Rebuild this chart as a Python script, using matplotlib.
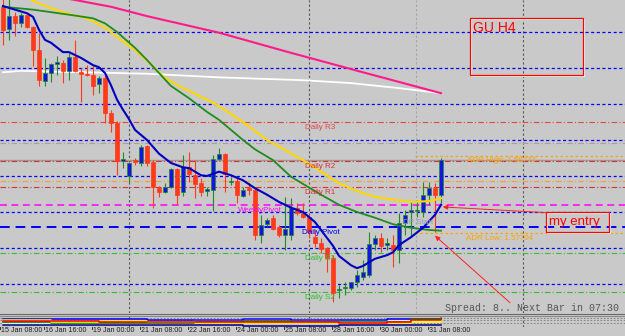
import numpy as np
import matplotlib
matplotlib.use("Agg")
import matplotlib.pyplot as plt
from matplotlib.patches import Rectangle

W, H = 625, 336
BG = "#c9c9c9"

# GBPUSD H4 bars, oldest first
opens = [1.6085, 1.6054, 1.6072, 1.6062, 1.6074, 1.6057, 1.6025, 1.5982, 1.5993, 1.6006,
         1.6007, 1.5996, 1.6015, 1.5994, 1.5992, 1.5990, 1.5978, 1.5986, 1.5937, 1.5924,
         1.5871, 1.5850, 1.5872, 1.5868, 1.5892, 1.5869, 1.5833, 1.5828, 1.5835, 1.5860,
         1.5828, 1.5862, 1.5851, 1.5840, 1.5829, 1.5831, 1.5874, 1.5881, 1.5842, 1.5843,
         1.5822, 1.5833, 1.5831, 1.5768, 1.5783, 1.5792, 1.5779, 1.5768, 1.5768, 1.5806,
         1.5799, 1.5793, 1.5765, 1.5757, 1.5750, 1.5736, 1.5692, 1.5694, 1.5694, 1.5703,
         1.5710, 1.5713, 1.5756, 1.5764, 1.5754, 1.5754, 1.5747, 1.5785, 1.5800, 1.5801,
         1.5800, 1.5824, 1.5833, 1.5824]
highs = [1.6096, 1.6098, 1.6078, 1.6076, 1.6075, 1.6058, 1.6049, 1.6014, 1.6007, 1.6017,
         1.6011, 1.6021, 1.6039, 1.6000, 1.6004, 1.6004, 1.5989, 1.5990, 1.5942, 1.5926,
         1.5883, 1.5869, 1.5875, 1.5893, 1.5893, 1.5872, 1.5836, 1.5840, 1.5861, 1.5861,
         1.5879, 1.5883, 1.5872, 1.5847, 1.5835, 1.5879, 1.5889, 1.5882, 1.5849, 1.5849,
         1.5835, 1.5840, 1.5833, 1.5796, 1.5792, 1.5796, 1.5782, 1.5821, 1.5819, 1.5813,
         1.5813, 1.5796, 1.5775, 1.5764, 1.5751, 1.5740, 1.5699, 1.5703, 1.5703, 1.5719,
         1.5733, 1.5772, 1.5768, 1.5771, 1.5764, 1.5768, 1.5799, 1.5803, 1.5814, 1.5817,
         1.5842, 1.5842, 1.5840, 1.5875]
lows = [1.6032, 1.6039, 1.6044, 1.6057, 1.6056, 1.6003, 1.5975, 1.5975, 1.5981, 1.5990,
        1.5979, 1.5983, 1.5994, 1.5953, 1.5989, 1.5962, 1.5965, 1.5924, 1.5911, 1.5851,
        1.5861, 1.5842, 1.5865, 1.5864, 1.5864, 1.5806, 1.5821, 1.5826, 1.5833, 1.5810,
        1.5822, 1.5842, 1.5819, 1.5822, 1.5822, 1.5801, 1.5872, 1.5828, 1.5837, 1.5813,
        1.5821, 1.5824, 1.5761, 1.5757, 1.5781, 1.5775, 1.5765, 1.5747, 1.5761, 1.5796,
        1.5792, 1.5764, 1.5751, 1.5743, 1.5717, 1.5675, 1.5681, 1.5685, 1.5692, 1.5696,
        1.5706, 1.5710, 1.5747, 1.5744, 1.5747, 1.5724, 1.5729, 1.5768, 1.5765, 1.5793,
        1.5793, 1.5810, 1.5772, 1.5813]
closes = [1.6053, 1.6072, 1.6062, 1.6074, 1.6057, 1.6025, 1.5983, 1.5993, 1.6006, 1.6008,
          1.5996, 1.6015, 1.5996, 1.5992, 1.5990, 1.5975, 1.5986, 1.5937, 1.5924, 1.5871,
          1.5874, 1.5868, 1.5869, 1.5890, 1.5868, 1.5835, 1.5828, 1.5835, 1.5860, 1.5824,
          1.5862, 1.5853, 1.5839, 1.5828, 1.5832, 1.5874, 1.5881, 1.5853, 1.5843, 1.5824,
          1.5831, 1.5831, 1.5768, 1.5782, 1.5789, 1.5776, 1.5768, 1.5776, 1.5806, 1.5799,
          1.5793, 1.5772, 1.5757, 1.5749, 1.5736, 1.5688, 1.5693, 1.5696, 1.5703, 1.5713,
          1.5717, 1.5756, 1.5764, 1.5753, 1.5757, 1.5747, 1.5785, 1.5796, 1.5803, 1.5803,
          1.5824, 1.5833, 1.5824, 1.5872]

# moving averages read at some bars
ma_blue_x = [0, 2, 4, 5, 6, 7, 8, 10, 11, 13, 15, 16, 17, 18, 19, 20, 21, 22, 24, 26, 28, 30, 31,
             33, 34, 35, 36, 38, 40, 42, 44, 46, 48, 50, 52, 53, 54, 55, 56, 58, 59, 60, 62, 64,
             65, 66, 68, 70, 72, 73]
ma_blue = [1.6086, 1.6081, 1.6076, 1.6071, 1.6053, 1.6039, 1.6035, 1.6022, 1.6022, 1.6014,
           1.6004, 1.6001, 1.5993, 1.5976, 1.5956, 1.5942, 1.5929, 1.5914, 1.5900, 1.5881,
           1.5868, 1.5862, 1.5861, 1.5851, 1.5850, 1.5853, 1.5856, 1.5851, 1.5844, 1.5833,
           1.5824, 1.5814, 1.5806, 1.5800, 1.5786, 1.5775, 1.5764, 1.5753, 1.5739, 1.5726,
           1.5722, 1.5725, 1.5735, 1.5740, 1.5744, 1.5754, 1.5765, 1.5778, 1.5796, 1.5810]
ma_green_x = [0, 5, 11, 15, 17, 19, 22, 24, 26, 28, 31, 34, 36, 40, 42, 45, 48, 50, 53, 56, 59,
              62, 65, 68, 71, 73]
ma_green = [1.6085, 1.6081, 1.6074, 1.6069, 1.6062, 1.6050, 1.6028, 1.6011, 1.5993, 1.5975,
            1.5958, 1.5939, 1.5928, 1.5900, 1.5887, 1.5872, 1.5849, 1.5839, 1.5824, 1.5810,
            1.5800, 1.5792, 1.5783, 1.5778, 1.5775, 1.5774]
ma_yellow_x = [0, 4, 5, 8, 11, 14, 17, 19, 22, 24, 27, 30, 34, 36, 40, 44, 47, 50, 53, 56, 59,
               62, 65, 68, 71, 73]
ma_yellow = [1.6111, 1.6099, 1.6093, 1.6083, 1.6075, 1.6069, 1.6056, 1.6043, 1.6025, 1.6010,
             1.5986, 1.5972, 1.5956, 1.5947, 1.5925, 1.5900, 1.5886, 1.5872, 1.5856, 1.5840,
             1.5829, 1.5821, 1.5817, 1.5814, 1.5815, 1.5819]
ma_pink_x = [0, 11, 18, 24, 36, 48, 60, 73]
ma_pink = [1.6115, 1.6096, 1.6085, 1.6072, 1.6049, 1.6021, 1.5994, 1.5965]
ma_white_x = [0, 3, 24, 36, 50, 58, 66, 73]
ma_white = [1.5994, 1.5996, 1.5992, 1.5987, 1.5983, 1.5979, 1.5972, 1.5965]

# levels
round_levels = [1.5700, 1.5750, 1.5800, 1.5850, 1.5900, 1.5950, 1.6000, 1.6050]
pivot_names = ["Daily R3", "Daily R2", "Daily R1", "WeeklyPivot", "Daily Pivot", "Daily S1", "Daily S2"]
pivot_prices = [1.5925, 1.5871, 1.5835, 1.5810, 1.5779, 1.5743, 1.5689]
pivot_colors = ["#e04848", "#d83030", "#d83030", "#ff00ff", "#0000ff", "#30c030", "#30c030"]
weekly_r1 = 1.5843
weekly_mid = 1.5896
adr_high, adr_low = 1.58774, 1.57704

# sub window (strength lines, 0..100)
panel_x = [0, 8, 16, 24, 32, 40, 48, 56, 64, 68, 73]
panel_series = {
    "#ffffff": [31, 31, 23, 31, 62, 69, 62, 54, 54, 54, 62],
    "#0000ff": [69, 69, 77, 62, 62, 69, 62, 62, 69, 69, 77],
    "#008000": [46, 38, 38, 38, 46, 54, 46, 46, 46, 69, 85],
    "#ffff00": [62, 46, 54, 46, 38, 38, 38, 38, 38, 46, 54],
    "#ff0000": [54, 54, 46, 46, 46, 46, 46, 38, 46, 62, 77],
    "#000080": [15, 15, 15, 15, 15, 8, 8, 15, 15, 15, 15],
}
date_labels = ["15 Jan 08:00", "16 Jan 16:00", "19 Jan 00:00", "21 Jan 08:00", "22 Jan 16:00",
               "24 Jan 00:00", "25 Jan 08:00", "28 Jan 16:00", "30 Jan 00:00", "31 Jan 08:00"]
date_bars = [-0.5, 6.8, 14.8, 22.8, 30.8, 38.8, 46.8, 54.8, 62.8, 70.8]


def fx(px):
    return px / W


def fy(py):
    return 1 - py / H


fig = plt.figure(figsize=(W / 100, H / 100), dpi=100, facecolor=BG)
ax = fig.add_axes([0, fy(313), 1, 313 / H])
ax.set_xlim(-0.5, 103.67)
ax.set_ylim(1.56597, 1.60944)
ax.axis("off")

# grid / separators
for b in [21, 51, 86.67]:
    ax.axvline(b, color="#555555", lw=0.8, ls=(0, (2, 2)), zorder=1)
ax.axvline(68.83, color="#a6a6a6", lw=0.8, ls=(0, (2, 2)), zorder=1)

for lv in round_levels:
    ax.axhline(lv, color="#0000ff", lw=0.9, ls=(0, (2.5, 2)), zorder=2)
ax.axhline(weekly_mid, color="#b09a9a", lw=0.8, ls=(0, (5, 2, 1, 2)), zorder=2)
ax.axhline(weekly_r1, color="#f0a030", lw=0.8, ls=(0, (5, 2, 1, 2)), zorder=2)
ax.axhline(closes[-1], color="#9a9a9a", lw=1.0, zorder=2)
styles = [(0, (5, 2, 1, 2)), (0, (5, 2, 1, 2)), (0, (5, 2, 1, 2)), (0, (4.5, 3)),
          (0, (5, 3)), (0, (5, 2, 1, 2)), (0, (5, 2, 1, 2))]
widths = [0.8, 0.8, 0.8, 1.1, 1.4, 0.8, 0.8]
for p, c, s, w in zip(pivot_prices, pivot_colors, styles, widths):
    ax.axhline(p, color=c, lw=w, ls=s, zorder=2)
ax.hlines([adr_high, adr_low], 68.7, 104, color="#ffa500", lw=0.9, ls=(0, (2, 2)), zorder=2)

# candles
for i, (o, h, l, c) in enumerate(zip(opens, highs, lows, closes)):
    up = c >= o
    wick = "#1e8c1e" if up else "#ff3a1a"
    body = "#1414e6" if up else "#ff3a1a"
    ax.vlines(i, l, h, color=wick, lw=0.8, zorder=4)
    lo = min(o, c)
    ax.add_patch(Rectangle((i - 0.3, lo), 0.6, max(abs(c - o), 0.00012),
                           facecolor=body, edgecolor=wick, lw=0.5, zorder=5))

ax.plot(ma_white_x, ma_white, color="#ffffff", lw=1.3, zorder=3)
ax.plot(ma_pink_x, ma_pink, color="#ff1a8c", lw=1.5, zorder=3)
ax.plot(ma_yellow_x, ma_yellow, color="#ffd700", lw=1.5, zorder=6)
ax.plot(ma_green_x, ma_green, color="#1e8c1e", lw=1.3, zorder=6)
ax.plot(ma_blue_x, ma_blue, color="#0000c0", lw=1.5, zorder=7)

# level labels
label_x = [50.3, 50.3, 50.3, 39.2, 49.8, 50.3, 50.3]
for name, p, c, lx in zip(pivot_names, pivot_prices, pivot_colors, label_x):
    ax.annotate(name, (lx, p), xytext=(0, -1.5), textcoords="offset points",
                va="top", ha="left", fontsize=5.8, color=c, family="Liberation Sans", zorder=8)
ax.annotate(f"ADR High: {adr_high:.5f}", (77.3, adr_high), xytext=(0, -0.5), textcoords="offset points",
            va="top", fontsize=5.8, color="#ffa500", family="Liberation Sans", zorder=8)
ax.annotate(f"ADR Low: {adr_low:.5f}", (77.2, adr_low), xytext=(0, -1), textcoords="offset points",
            va="top", fontsize=5.8, color="#ffa500", family="Liberation Sans", zorder=8)
ax.text(66.7, 1.5785, "DP Start", va="center", fontsize=5.8, color="#8ea2b2",
        family="Liberation Sans", zorder=8)

# arrows
arrow = dict(arrowstyle="-|>", color="#ff2020", lw=0.7, mutation_scale=7, shrinkA=0, shrinkB=0)
ax.annotate("", xy=(73.3, 1.5807), xytext=(90.7, 1.5799), arrowprops=arrow, zorder=9)
ax.annotate("", xy=(72.0, 1.5767), xytext=(84.5, 1.5674), arrowprops=arrow,
            annotation_clip=False, zorder=9)

# text boxes
for (x0, y0, x1, y1) in [(470, 18, 583, 75), (546, 212, 609, 232)]:
    fig.patches.append(Rectangle((fx(x0 + 1), fy(y1 + 1)), (x1 - x0) / W, (y1 - y0) / H,
                                 transform=fig.transFigure, fill=False, ec="#e4f4f4", lw=0.8))
    fig.patches.append(Rectangle((fx(x0), fy(y1)), (x1 - x0) / W, (y1 - y0) / H,
                                 transform=fig.transFigure, fill=False, ec="#ff0000", lw=0.9))
fig.text(fx(473), fy(28), "GU H4", color="#ff0000", fontsize=10, va="center",
         family="Liberation Sans")
fig.text(fx(549), fy(222), "my entry", color="#ff0000", fontsize=9.5, va="center",
         family="Liberation Sans")
fig.text(fx(445), fy(308), "Spread: 8.. Next Bar in 07:30", color="#555555", fontsize=7.2,
         va="center", family="Liberation Mono")

# separator between windows
fig.add_artist(plt.Line2D([0, 1], [fy(313.5), fy(313.5)], color="#6a6a6a", lw=0.8))
fig.add_artist(plt.Line2D([0, 1], [fy(315.5), fy(315.5)], color="#8a8a8a", lw=0.8))

# sub window
ax2 = fig.add_axes([0, fy(327), 1, 11 / H])
ax2.set_xlim(-0.5, 103.67)
ax2.set_ylim(0, 100)
ax2.axis("off")
for v in [85, 62, 38]:
    ax2.axhline(v, color="#7a7a7a", lw=0.6, ls=(0, (2, 2)), zorder=1)
for b in [21, 51, 86.67]:
    ax2.axvline(b, color="#555555", lw=0.8, ls=(0, (2, 2)), zorder=1)
for col, vals in panel_series.items():
    ax2.plot(panel_x, vals, color=col, lw=1.1, drawstyle="steps-post", zorder=3)

# time axis
for lab, b in zip(date_labels, date_bars):
    px = 3 + 6 * b
    fig.text(fx(px + 1.5), fy(327.5), lab, fontsize=5.1, va="top", ha="left", color="#202020",
             family="Liberation Sans")
    fig.add_artist(plt.Line2D([fx(px), fx(px)], [fy(326.5), fy(329)], color="#202020", lw=0.6))

fig.savefig("out.png", dpi=100, facecolor=BG)
